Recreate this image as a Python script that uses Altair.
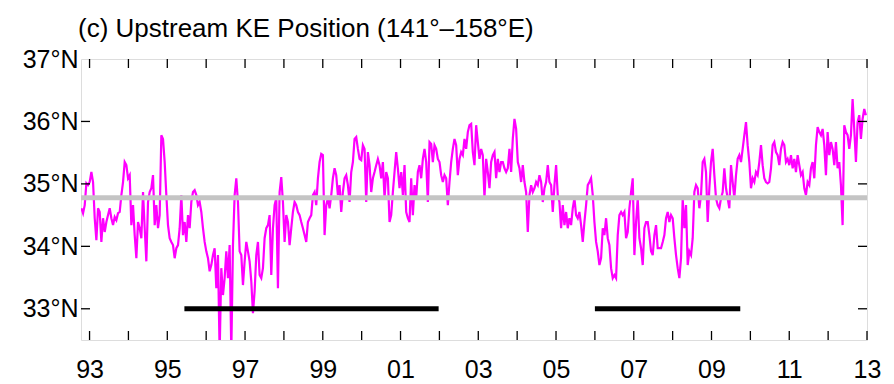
import altair as alt
import pandas as pd

# Upstream KE latitude (deg N), in time order
seg_1993_1996 = [34.61, 34.53, 34.66, 35.01, 34.98, 35.03, 35.19, 35.03, 34.45, 34.10,
                 34.61, 34.55, 34.07, 34.45, 34.23, 34.39, 34.50, 34.61, 34.45, 34.34,
                 34.47, 34.42, 34.53, 34.55, 34.82, 35.03, 35.35, 35.30, 35.09, 35.14,
                 34.34, 34.66, 34.18, 33.81, 34.39, 34.29, 34.13, 34.87, 34.29, 33.76,
                 34.71, 34.87, 34.93, 35.14, 34.34, 34.66, 34.29, 34.50, 35.78, 35.72,
                 35.35, 34.82, 34.34, 34.13, 34.07, 34.02, 33.81, 33.97, 34.02, 34.29,
                 34.82, 34.18, 34.39, 34.07, 34.50, 34.29, 34.71, 34.87, 34.90, 34.82,
                 34.66, 34.71, 34.55, 34.29, 34.07, 33.92, 33.81, 33.60, 33.70, 33.86,
                 33.97, 33.33, 33.86, 32.30, 33.65, 33.22, 33.49, 33.92, 33.49, 34.02,
                 32.30, 34.02, 34.82, 35.09]
seg_1997_2000 = [34.71, 33.92, 33.86, 33.38, 33.76, 34.07, 33.92, 33.76, 33.44, 32.93,
                 33.28, 33.86, 34.07, 33.54, 33.49, 33.65, 34.13, 34.29, 34.34, 34.50,
                 33.54, 34.29, 34.66, 34.77, 33.33, 34.87, 35.11, 34.71, 34.07, 34.50,
                 34.39, 34.02, 34.29, 34.55, 34.71, 34.66, 34.55, 34.50, 34.39, 34.29,
                 34.18, 34.07, 34.39, 34.45, 34.50, 34.82, 34.87, 34.66, 35.09, 35.35,
                 35.48, 35.46, 34.18, 34.66, 34.77, 34.61, 34.82, 35.09, 35.25, 35.14,
                 34.82, 34.98, 34.55, 34.87, 35.09, 35.14, 34.98, 34.71, 35.19, 35.35,
                 35.72, 35.75, 35.56, 35.40, 35.38, 35.62, 35.56, 34.71, 35.51, 35.30,
                 34.87, 35.09, 35.19, 35.30, 35.40, 35.30, 35.09, 35.35, 34.77, 35.19,
                 35.09, 34.39, 34.50, 34.87, 35.19, 35.51]
seg_2001_2005 = [35.25, 34.93, 35.19, 34.82, 35.30, 34.55, 34.45, 34.39, 35.09, 34.50,
                 34.98, 34.77, 35.19, 35.30, 35.09, 35.40, 35.56, 35.35, 34.71, 35.67,
                 35.64, 35.35, 35.62, 35.56, 35.40, 35.35, 35.14, 35.03, 35.14, 35.09,
                 34.66, 35.03, 35.35, 35.56, 35.72, 35.62, 35.14, 35.40, 35.51, 35.46,
                 35.72, 35.56, 35.83, 35.94, 35.96, 35.51, 35.30, 35.94, 35.67, 35.40,
                 35.56, 35.46, 34.77, 35.40, 35.19, 34.93, 35.35, 35.46, 35.51, 35.09,
                 35.40, 35.19, 35.35, 35.35, 35.25, 35.19, 35.25, 35.56, 35.19, 35.72,
                 36.04, 35.88, 35.35, 35.25, 35.03, 35.30, 35.03, 34.87, 34.23, 34.82,
                 34.98, 34.87, 34.93, 35.03, 34.98, 35.14, 35.03, 34.71, 34.93, 35.03,
                 35.30, 35.03, 34.98, 34.55, 34.98, 35.30]
seg_2005_2009 = [34.82, 34.71, 34.29, 34.66, 34.34, 34.55, 34.29, 34.45, 34.34, 34.61,
                 34.77, 34.50, 34.45, 34.55, 34.34, 34.07, 34.39, 34.66, 34.98, 35.03,
                 35.09, 34.82, 34.39, 34.07, 33.92, 33.70, 33.81, 34.29, 34.18, 34.45,
                 34.13, 34.02, 33.65, 33.49, 33.54, 33.49, 34.18, 34.50, 34.55, 34.50,
                 34.55, 34.13, 34.23, 34.61, 34.87, 35.09, 33.86, 34.39, 34.77, 34.13,
                 33.97, 33.70, 34.29, 34.39, 34.39, 34.18, 33.92, 33.86, 34.18, 34.34,
                 33.97, 33.97, 33.97, 34.07, 34.18, 34.45, 34.55, 34.39, 34.50, 34.45,
                 34.13, 33.86, 33.65, 33.49, 33.81, 34.77, 34.29, 34.66, 33.70, 33.92,
                 33.86, 34.13, 34.87, 34.98, 34.93, 34.61, 34.82, 35.35, 35.40, 35.19,
                 34.39, 34.93, 35.35, 35.56, 35.14, 34.77]
seg_2009_2012 = [34.66, 34.61, 34.77, 34.87, 35.25, 34.93, 34.77, 34.61, 35.30, 35.03,
                 34.77, 35.14, 35.40, 35.46, 35.35, 35.56, 35.78, 35.99, 35.62, 35.35,
                 34.93, 35.09, 35.03, 35.19, 35.14, 35.35, 35.62, 35.30, 35.09, 35.03,
                 35.01, 35.03, 35.25, 35.62, 35.67, 35.51, 35.46, 35.30, 35.56, 35.67,
                 35.62, 35.35, 35.40, 35.30, 35.46, 35.25, 35.40, 35.19, 35.46, 35.30,
                 35.14, 35.19, 34.93, 34.82, 35.03, 34.98, 35.25, 35.35, 35.09, 35.62,
                 35.91, 35.83, 35.78, 35.88, 35.62, 35.14, 35.83, 35.46, 35.67, 35.56,
                 35.30, 35.67, 35.25, 35.35, 34.98, 34.34, 35.94, 35.83, 35.78, 35.56,
                 35.78, 36.36, 35.88, 35.35, 35.99, 36.10, 35.72, 36.04, 36.20, 36.10]

t_start = 1992.79   # first sample (fractional year)
t_step = 0.04285    # sampling interval (~15.6 days)

mean_lat = [34.78]
bar_start = [1995.44, 2006.0]
bar_end = [2001.98, 2009.74]
bar_lat = [33.0, 33.0]
tick_years = list(range(1993, 2014))
tick_lats = [33, 34, 35, 36]
label_lats = [33, 34, 35, 36, 37]

lat = seg_1993_1996 + seg_1997_2000 + seg_2001_2005 + seg_2005_2009 + seg_2009_2012
years = [round(t_start + i * t_step, 4) for i in range(len(lat))]
df = pd.DataFrame({"year": years, "lat": lat})
df_mean = pd.DataFrame({"lat": mean_lat})
df_bar = pd.DataFrame({"year": bar_start, "end": bar_end, "lat": bar_lat})
df_tx = pd.DataFrame({"year": tick_years})
df_ty = pd.DataFrame({"lat": tick_lats})

W, H = 786, 281
FONT = "Liberation Sans, Arial, Helvetica, sans-serif"
xs = alt.Scale(domain=[1992.78, 2013.0], nice=False, zero=False)
ys = alt.Scale(domain=[32.5, 37.0], nice=False, zero=False)

xaxis = alt.Axis(values=tick_years, grid=False, ticks=False, domain=False,
                 labelExpr="datum.value % 2 == 1 ? slice(toString(datum.value), 2) : ''",
                 labelFontSize=25, labelFont=FONT, labelColor="black", labelPadding=17,
                 title=None, labelFlush=False, labelOverlap=False)
yaxis = alt.Axis(values=label_lats, grid=False, ticks=False, domain=False,
                 labelExpr="datum.value + '°N'", labelFontSize=25, labelFont=FONT,
                 labelColor="black", labelPadding=3, title=None, labelFlush=False,
                 labelOverlap=False)

X = lambda f: alt.X(f, scale=xs, axis=xaxis)
Y = lambda f: alt.Y(f, scale=ys, axis=yaxis)

mean_rule = alt.Chart(df_mean).mark_rule(color="#c4c4c4", strokeWidth=5).encode(
    y=Y("lat:Q"))

bars = alt.Chart(df_bar).mark_rule(color="black", strokeWidth=5).encode(
    x=X("year:Q"), x2="end:Q", y=Y("lat:Q"))

line = alt.Chart(df).mark_line(color="#ff00ff", strokeWidth=2.2, clip=True).encode(
    x=X("year:Q"), y=Y("lat:Q"))

tk = dict(color="black", strokeWidth=1.3)
tick_b = alt.Chart(df_tx).mark_rule(**tk).encode(
    x=X("year:Q"), y=alt.value(H - 9), y2=alt.value(H))
tick_t = alt.Chart(df_tx).mark_rule(**tk).encode(
    x=X("year:Q"), y=alt.value(0), y2=alt.value(9))
tick_l = alt.Chart(df_ty).mark_rule(**tk).encode(
    y=Y("lat:Q"), x=alt.value(0), x2=alt.value(9))
tick_r = alt.Chart(df_ty).mark_rule(**tk).encode(
    y=Y("lat:Q"), x=alt.value(W - 9), x2=alt.value(W))

chart = alt.layer(line, mean_rule, bars, tick_b, tick_t, tick_l, tick_r).properties(
    width=W, height=H,
    title=alt.TitleParams("(c) Upstream KE Position (141°–158°E)", anchor="start",
                          frame="group", dx=-3, fontSize=26, font=FONT,
                          fontWeight="normal", color="black", offset=5),
    autosize=alt.AutoSizeParams(type="none"),
    padding={"left": 81, "top": 59, "right": 27, "bottom": 44},
).configure_view(stroke="black", strokeWidth=2).configure(background="white")

chart.save("out.html", embed_options={"renderer": "svg", "actions": False})
